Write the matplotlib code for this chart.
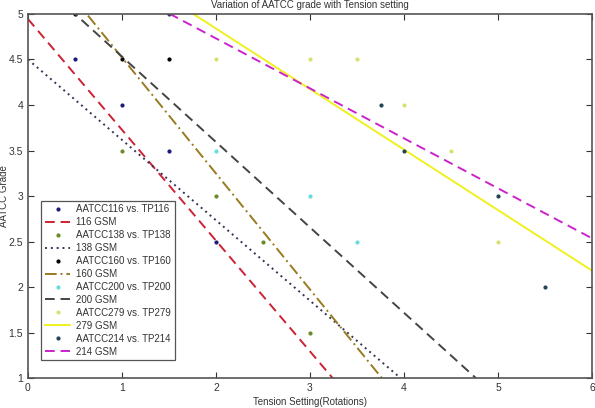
import matplotlib
matplotlib.use("Agg")
import matplotlib.pyplot as plt

# measured points (Tension setting, AATCC grade)
tp116_x = [0.5, 1.0, 1.5, 2.0]
tp116_y = [4.5, 4.0, 3.5, 2.5]
tp138_x = [1.0, 2.0, 2.5, 3.0]
tp138_y = [3.5, 3.0, 2.5, 1.5]
tp160_x = [0.5, 1.0, 1.5]
tp160_y = [5.0, 4.5, 4.5]
tp200_x = [2.0, 3.0, 3.5]
tp200_y = [3.5, 3.0, 2.5]
tp279_x = [2.0, 3.0, 3.5, 4.0, 4.5, 5.0]
tp279_y = [4.5, 4.5, 4.5, 4.0, 3.5, 2.5]
tp214_x = [1.5, 3.75, 4.0, 5.0, 5.5]
tp214_y = [5.0, 4.0, 3.5, 3.0, 2.0]

# fitted lines, end points at x = 0 and x = 6
line_x = [0, 6]
gsm116_y = [4.945, -2.36]
gsm138_y = [4.50, -0.80]
gsm160_y = [5.796, -1.85]
gsm200_y = [5.47, -0.16]
gsm279_y = [6.17, 2.18]
gsm214_y = [5.83, 2.535]

series = [
    ("AATCC116 vs. TP116", tp116_x, tp116_y, "#1a1a7a", "116 GSM", gsm116_y, "#cc2233", (0, (5, 3))),
    ("AATCC138 vs. TP138", tp138_x, tp138_y, "#6a8a2a", "138 GSM", gsm138_y, "#333355", (0, (1, 2))),
    ("AATCC160 vs. TP160", tp160_x, tp160_y, "#000000", "160 GSM", gsm160_y, "#9a7a20", (0, (6, 2, 1, 2))),
    ("AATCC200 vs. TP200", tp200_x, tp200_y, "#66dddd", "200 GSM", gsm200_y, "#444444", (0, (5, 3))),
    ("AATCC279 vs. TP279", tp279_x, tp279_y, "#d8e070", "279 GSM", gsm279_y, "#f0f020", "-"),
    ("AATCC214 vs. TP214", tp214_x, tp214_y, "#224455", "214 GSM", gsm214_y, "#cc22cc", (0, (5, 3))),
]

plt.rcParams['font.family'] = ['Liberation Sans', 'DejaVu Sans']
fig = plt.figure(figsize=(5.95, 4.08), dpi=100)
ax = fig.add_axes([0.047, 0.0735, 0.948, 0.8922])

for lab, px, py, pc, llab, ly, lc, ls in series:
    ax.plot(px, py, '.', color=pc, markersize=4, label=lab)
    ax.plot(line_x, ly, color=lc, linestyle=ls, lw=1.4, label=llab)

ax.set_xlim(0, 6)
ax.set_ylim(1, 5)
ax.set_xticks(range(0, 7))
ax.set_yticks([1, 1.5, 2, 2.5, 3, 3.5, 4, 4.5, 5])
ax.set_yticklabels(["1", "1.5", "2", "2.5", "3", "3.5", "4", "4.5", "5"])
ax.tick_params(direction='in', top=True, right=True, labelsize=7.5,
               colors='#333333', length=4, width=0.8)
for s in ax.spines.values():
    s.set_color('#555555')
    s.set_linewidth(1.2)

ax.set_title("Variation of AATCC grade with Tension setting", fontsize=7,
             color='#333333', pad=4)
ax.set_xlabel("Tension Setting(Rotations)", fontsize=7, color='#333333', labelpad=3)
ax.set_ylabel("AATCC Grade", fontsize=7, color='#333333')
ax.yaxis.set_label_coords(-0.033, 0.5)

leg = ax.legend(loc='lower left', bbox_to_anchor=(0.015, 0.035), fontsize=7,
                fancybox=False, framealpha=1, edgecolor='#555555',
                handlelength=2.6, labelspacing=0.3, borderpad=0.4,
                handletextpad=0.6)
leg.get_frame().set_linewidth(0.9)
for t in leg.get_texts():
    t.set_color('#333333')

fig.savefig("out.png", dpi=100)
